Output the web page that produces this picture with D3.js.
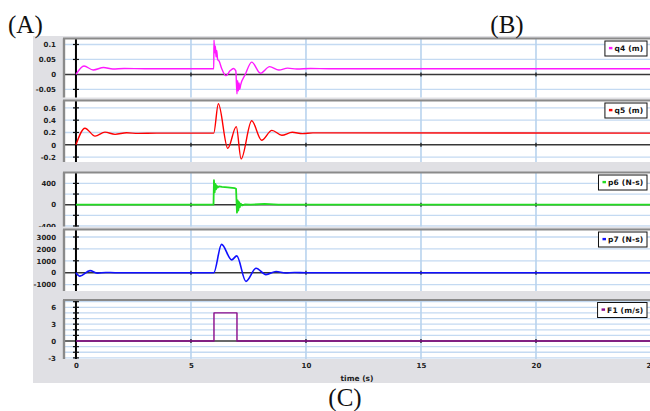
<!DOCTYPE html>
<html>
<head>
<meta charset="utf-8">
<script src="https://cdn.jsdelivr.net/npm/d3@7"></script>
<style>
  html, body { margin: 0; padding: 0; background: #fff; }
  svg { display: block; }
</style>
</head>
<body>
<svg id="chart" width="650" height="411"></svg>
<script>
// ---- time axis ----
const timeTicks = [0, 5, 10, 15, 20, 25];

// ---- q4 (m) ----
const q4Time = [0, 0.35, 0.75, 1.2, 1.6, 2.1, 3, 4, 5.99, 6.0, 6.03, 6.06, 6.09, 6.12, 6.16, 6.22, 6.33, 6.52, 6.7, 6.85, 6.95, 7.0, 7.03, 7.06, 7.09, 7.12, 7.16, 7.35, 7.64, 8.02, 8.42, 8.82, 9.2, 9.6, 10.2, 11, 25.5];
const q4Vals = [0, 0.028, 0.015, 0.023, 0.018, 0.02, 0.019, 0.019, 0.019, 0.115, 0.072, 0.095, 0.058, 0.08, 0.05, 0.045, 0.021, -0.004, 0.012, 0.02, 0.012, -0.065, -0.02, -0.055, -0.028, -0.05, -0.035, -0.002, 0.041, 0.004, 0.026, 0.015, 0.021, 0.018, 0.02, 0.019, 0.019];
const q4Labels = [0.1, 0.05, 0, -0.05];
const q4Grid = [0.1, 0.05, -0.05];

// ---- q5 (m) ----
const q5Time = [0, 0.39, 0.83, 1.26, 1.7, 2.2, 2.7, 3.5, 5.99, 6.19, 6.6, 6.97, 7.18, 7.64, 8.07, 8.52, 8.95, 9.4, 9.85, 10.3, 25.5];
const q5Vals = [0, 0.27, 0.14, 0.205, 0.17, 0.195, 0.185, 0.19, 0.19, 0.667, -0.058, 0.295, -0.23, 0.39, 0.074, 0.235, 0.155, 0.203, 0.182, 0.193, 0.19];
const q5Labels = [0.6, 0.4, 0.2, 0, -0.2];
const q5Grid = [0.6, 0.4, 0.2, -0.2];

// ---- p6 (N-s) ----
const p6Time = [0, 5.98, 6.0, 6.03, 6.06, 6.09, 6.12, 6.16, 6.22, 6.35, 6.6, 6.9, 6.96, 7.0, 7.03, 7.06, 7.09, 7.12, 7.16, 7.22, 7.35, 7.6, 8.2, 8.8, 25.5];
const p6Vals = [0, 0, 460, 230, 390, 290, 360, 320, 345, 335, 325, 310, 300, -150, 80, -110, 50, -50, 20, -15, 5, 0, 15, 0, 0];
const p6Labels = [400, 0, -400];
const p6Grid = [400, 200, -200, -400];

// ---- p7 (N-s) ----
const p7Time = [0, 0.17, 0.61, 0.95, 1.3, 1.7, 5.99, 6.33, 6.77, 6.99, 7.39, 7.83, 8.26, 8.7, 9.1, 9.5, 10, 25.5];
const p7Vals = [0, -290, 170, -40, 20, 0, 0, 2380, 1076, 1415, -730, 370, -160, 100, -30, 10, 0, 0];
const p7Labels = [3000, 2000, 1000, 0, -1000];
const p7Grid = [3000, 2000, 1000, -1000];

// ---- F1 (m/s) ----
const f1Time = [0, 6, 6, 7, 7, 25.5];
const f1Vals = [0, 0, 5, 5, 0, 0];
const f1Labels = [6, 3, 0, -3];
const f1Grid = [7, 6, 5, 4, 3, 2, 1, -1, -2, -3];

const svg = d3.select('#chart');
const BG = '#e0e0e4';
const FONT = '"DejaVu Sans", Verdana, sans-serif';

const x = d3.scaleLinear().domain([-0.52, 25.5]).range([64, 662.5]);
const plotLeft = 64, plotRight = 650;

// outer grey frame
svg.append('rect').attr('x', 33).attr('y', 36.5).attr('width', 617).attr('height', 346.5).attr('fill', BG);

const panels = [
  { name: 'q4 (m)',   color: '#ff19ff', t: q4Time, v: q4Vals, labels: q4Labels, grid: q4Grid, top: 38.5,  bottom: 97.5,  domain: [-0.077, 0.12], curve: d3.curveMonotoneX, width: 1.4 },
  { name: 'q5 (m)',   color: '#ff0000', t: q5Time, v: q5Vals, labels: q5Labels, grid: q5Grid, top: 100.5, bottom: 162,   domain: [-0.28, 0.72],  curve: d3.curveMonotoneX, width: 1.4 },
  { name: 'p6 (N-s)', color: '#22dd22', t: p6Time, v: p6Vals, labels: p6Labels, grid: p6Grid, top: 172.5, bottom: 226.5, domain: [-410, 605],    curve: d3.curveLinear,    width: 1.8 },
  { name: 'p7 (N-s)', color: '#1010ff', t: p7Time, v: p7Vals, labels: p7Labels, grid: p7Grid, top: 229.5, bottom: 291,   domain: [-1540, 3630],  curve: d3.curveMonotoneX, width: 1.6 },
  { name: 'F1 (m/s)', color: '#8a0a8a', t: f1Time, v: f1Vals, labels: f1Labels, grid: f1Grid, top: 300,   bottom: 359,   domain: [-3.2, 7.3],    curve: d3.curveLinear,    width: 1.4 }
];

panels.forEach((p, i) => {
  const g = svg.append('g');
  const y = d3.scaleLinear().domain(p.domain).range([p.bottom, p.top]);

  // grey strip behind this panel (hides overflow of the panel above)
  g.append('rect').attr('x', 33).attr('y', p.top - 2.5).attr('width', 617).attr('height', p.bottom - p.top + 2.5).attr('fill', BG);
  // white plotting area
  g.append('rect').attr('x', plotLeft).attr('y', p.top).attr('width', plotRight - plotLeft).attr('height', p.bottom - p.top).attr('fill', '#fff');

  // horizontal grid
  g.selectAll('.hg').data(p.grid).join('line')
    .attr('x1', plotLeft).attr('x2', plotRight)
    .attr('y1', d => y(d)).attr('y2', d => y(d))
    .attr('stroke', '#c4daf2').attr('stroke-width', 1.3);

  // vertical grid
  g.selectAll('.vg').data(timeTicks.filter(d => d !== 0)).join('line')
    .attr('x1', d => x(d)).attr('x2', d => x(d))
    .attr('y1', p.top).attr('y2', p.bottom)
    .attr('stroke', '#b8d3ee').attr('stroke-width', 1.6);

  // zero line
  g.append('line').attr('x1', plotLeft).attr('x2', plotRight)
    .attr('y1', y(0)).attr('y2', y(0))
    .attr('stroke', '#383838').attr('stroke-width', 1.5);

  // small time ticks on the zero line
  g.selectAll('.xt').data(timeTicks.filter(d => d !== 0)).join('line')
    .attr('x1', d => x(d)).attr('x2', d => x(d))
    .attr('y1', y(0) - 2).attr('y2', y(0) + 2)
    .attr('stroke', '#222').attr('stroke-width', 1.3);

  // data trace
  const clipId = 'clip' + i;
  g.append('clipPath').attr('id', clipId).append('rect')
    .attr('x', plotLeft + 1).attr('y', p.top + 1).attr('width', plotRight - plotLeft).attr('height', p.bottom - p.top - 1);
  const pts = p.t.map((t, k) => [t, p.v[k]]);
  const line = d3.line().x(d => x(d[0])).y(d => y(d[1])).curve(p.curve);

  // vertical axis at t = 0
  g.append('line').attr('x1', x(0)).attr('x2', x(0))
    .attr('y1', p.top).attr('y2', p.bottom)
    .attr('stroke', '#000').attr('stroke-width', 2);
  g.selectAll('.yt').data(p.grid).join('line')
    .attr('x1', x(0) - 3).attr('x2', x(0) + 3)
    .attr('y1', d => y(d)).attr('y2', d => y(d))
    .attr('stroke', '#111').attr('stroke-width', 1.2);

  g.append('path').datum(pts)
    .attr('clip-path', `url(#${clipId})`)
    .attr('d', line)
    .attr('fill', 'none')
    .attr('stroke', p.color)
    .attr('stroke-width', p.width)
    .attr('stroke-linejoin', 'round');

  // panel frame (top and left edges)
  g.append('line').attr('x1', plotLeft - 1).attr('x2', plotRight).attr('y1', p.top).attr('y2', p.top)
    .attr('stroke', '#8a8a8a').attr('stroke-width', 2);
  g.append('line').attr('x1', plotLeft).attr('x2', plotLeft).attr('y1', p.top).attr('y2', p.bottom)
    .attr('stroke', '#8a8a8a').attr('stroke-width', 2.4);

  // value labels
  const ax = d3.axisLeft(y).tickValues(p.labels).tickSize(0).tickPadding(0).tickFormat(d => String(d));
  const ag = g.append('g').attr('transform', 'translate(56,0)').call(ax);
  ag.select('.domain').remove();
  ag.selectAll('text')
    .attr('font-family', FONT).attr('font-size', 7).attr('font-weight', 'bold').attr('fill', '#222');

  // legend box
  const lg = g.append('g');
  const txt = lg.append('text').text(p.name)
    .attr('font-family', FONT).attr('font-size', 7.5).attr('font-weight', 'bold').attr('fill', '#111')
    .attr('letter-spacing', 0.2);
  const tw = txt.node().getComputedTextLength();
  const bw = tw + 13, bh = 15;
  const bx = 647 - bw, by = p.top + 2.5;
  lg.insert('rect', 'text').attr('x', bx).attr('y', by).attr('width', bw).attr('height', bh)
    .attr('fill', '#fff').attr('stroke', '#111').attr('stroke-width', 1);
  lg.append('rect').attr('x', bx + 4).attr('y', by + bh / 2 - 1.6).attr('width', 3.5).attr('height', 2.4).attr('fill', p.color);
  txt.attr('x', bx + 9.5).attr('y', by + bh / 2 + 2.7);
});

// time axis labels
const xa = d3.axisBottom(x).tickValues(timeTicks).tickSize(0).tickPadding(0).tickFormat(d3.format('d'));
const xg = svg.append('g').attr('transform', 'translate(0,363)').call(xa);
xg.select('.domain').remove();
xg.selectAll('text').attr('font-family', FONT).attr('font-size', 7).attr('font-weight', 'bold').attr('fill', '#222');

svg.append('text').text('time (s)')
  .attr('x', 357).attr('y', 381).attr('text-anchor', 'middle')
  .attr('font-family', FONT).attr('font-size', 7.5).attr('font-weight', 'bold').attr('fill', '#222');

// panel markers
const SERIF = '"Liberation Serif", "Times New Roman", serif';
svg.append('text').text('(A)').attr('x', 8).attr('y', 33).attr('font-family', SERIF).attr('font-size', 25).attr('fill', '#111');
svg.append('text').text('(B)').attr('x', 507).attr('y', 33).attr('text-anchor', 'middle').attr('font-family', SERIF).attr('font-size', 25).attr('fill', '#111');
svg.append('text').text('(C)').attr('x', 345).attr('y', 406).attr('text-anchor', 'middle').attr('font-family', SERIF).attr('font-size', 25).attr('fill', '#111');
</script>
</body>
</html>
